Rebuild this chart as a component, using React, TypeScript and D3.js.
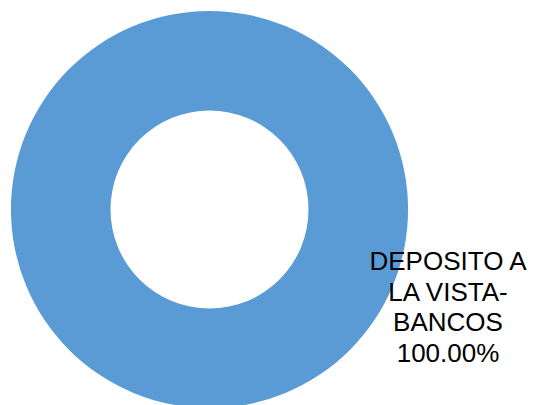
import React from "react";
import * as d3 from "d3";

const categories = ["DEPOSITO A LA VISTA-BANCOS"];
const values = [100];
const labelLines = [["DEPOSITO A", "LA VISTA-", "BANCOS", "100.00%"]];
const colors = ["#5B9BD5"];

export default function App() {
  const width = 533;
  const height = 405;
  const cx = 209.5;
  const cy = 209.5;
  const outerR = 198.5;
  const innerR = 99;

  const pie = d3.pie<number>().sort(null).value((d) => d);
  const arcs = pie(values);
  const arc = d3.arc<d3.PieArcDatum<number>>().innerRadius(innerR).outerRadius(outerR);

  const labelX = 448;
  const firstBaseline = 270;
  const lineGap = 30.5;

  return (
    <svg
      width={width}
      height={height}
      style={{ position: "absolute", left: 0, top: 0, display: "block" }}
    >
      <rect width={width} height={height} fill="#ffffff" />
      <g transform={`translate(${cx},${cy})`}>
        {arcs.map((a, i) => (
          <path key={categories[i]} d={arc(a) || ""} fill={colors[i]} />
        ))}
      </g>
      {labelLines.map((lines, i) => (
        <text
          key={i}
          x={labelX}
          y={firstBaseline}
          textAnchor="middle"
          fontFamily="'Liberation Sans', Arial, sans-serif"
          fontSize={26}
          fill="#000000"
        >
          {lines.map((l, j) => (
            <tspan key={j} x={labelX} y={firstBaseline + j * lineGap}>
              {l}
            </tspan>
          ))}
        </text>
      ))}
    </svg>
  );
}
